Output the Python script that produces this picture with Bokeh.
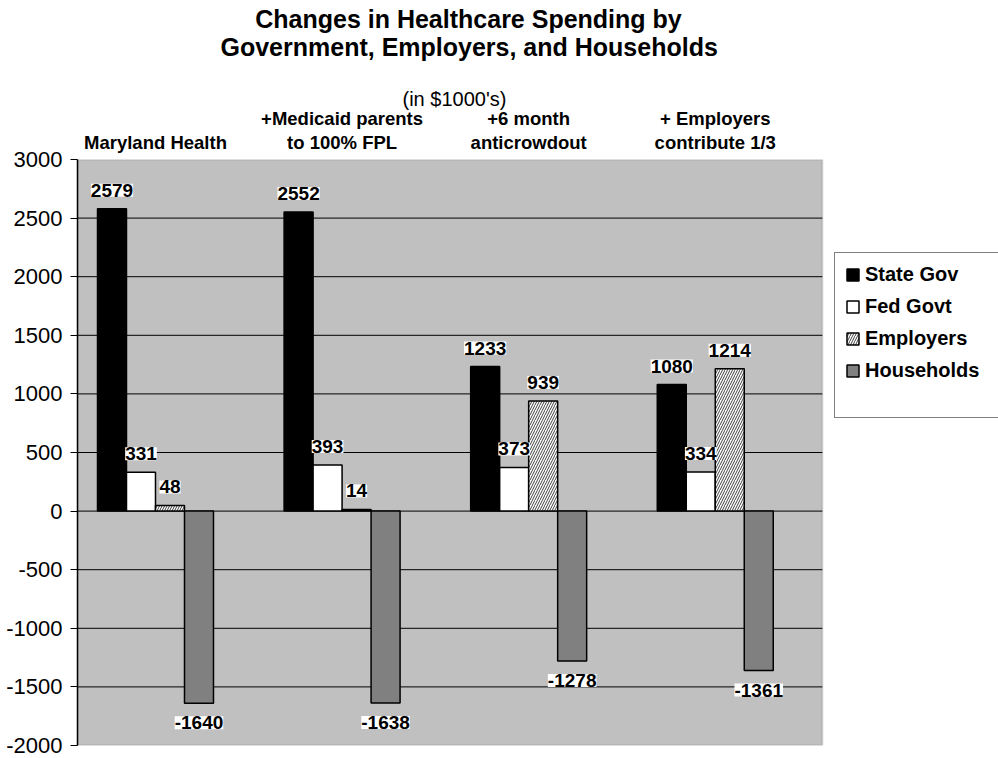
from bokeh.plotting import figure
from bokeh.models import (ColumnDataSource, LinearAxis, FixedTicker, Title, Legend,
                          LegendItem, LabelSet, Range1d, BoxAnnotation)
from bokeh.core.properties import value
from bokeh.transform import dodge
from bokeh.embed import file_html
from bokeh.resources import INLINE

# ---- data ----
title_lines = ["Changes in Healthcare Spending  by", "Government, Employers, and Households"]
subtitle = "(in $1000's)"
categories = ["Maryland Health", "+Medicaid parents\nto 100% FPL",
              "+6 month\nanticrowdout", "+ Employers\ncontribute 1/3"]
series_names = ["State Gov", "Fed Govt", "Employers", "Households"]
state_gov = [2579, 2552, 1233, 1080]
fed_govt = [331, 393, 373, 334]
employers = [48, 14, 939, 1214]
households = [-1640, -1638, -1278, -1361]
y_ticks = [-2000, -1500, -1000, -500, 0, 500, 1000, 1500, 2000, 2500, 3000]

FONT = "Liberation Sans"
# x extent: plot area spans X_START..PLOT_END, legend area beyond it
X_START, PLOT_END, X_END = -0.418, 3.574, 4.518
Y_MIN, Y_MAX = -2000, 3000

values = {"State Gov": state_gov, "Fed Govt": fed_govt,
          "Employers": employers, "Households": households}
keys = {"State Gov": "state", "Fed Govt": "fed", "Employers": "emp", "Households": "hh"}

data = {"idx": list(range(len(categories)))}
for name, vals in values.items():
    k = keys[name]
    data[k] = vals
    data[k + "_txt"] = [str(v) for v in vals]
    data[k + "_off"] = [12 if v >= 0 else -13 for v in vals]
    data[k + "_base"] = ["bottom" if v >= 0 else "top" for v in vals]
src = ColumnDataSource(data)

p = figure(width=998, height=758, output_backend="svg", toolbar_location=None,
           x_range=Range1d(X_START, X_END), y_range=Range1d(Y_MIN, Y_MAX),
           x_axis_type=None, title=None)
p.min_border_left = 77
p.min_border_right = 0
p.min_border_top = 159
p.min_border_bottom = 13
p.background_fill_color = "white"
p.border_fill_color = "white"
p.outline_line_color = None

# gray plot area
area = BoxAnnotation(left=X_START, right=PLOT_END, bottom=Y_MIN, top=Y_MAX,
                     fill_color="#C0C0C0", fill_alpha=1.0,
                     line_color="#808080", line_width=2, level="underlay")
p.add_layout(area)

# y axis
p.yaxis.ticker = FixedTicker(ticks=y_ticks)
p.yaxis.major_label_overrides = {t: str(t) for t in y_ticks}
p.yaxis.major_label_text_font = FONT
p.yaxis.major_label_text_font_size = "22px"
p.yaxis.major_label_text_color = "black"
p.yaxis.major_tick_out = 7
p.yaxis.major_tick_in = 0
p.yaxis.minor_tick_line_color = None
p.yaxis.axis_line_color = "black"
p.yaxis.axis_line_width = 1.5
p.yaxis.major_tick_line_color = "black"
p.yaxis.major_label_standoff = 8
p.ygrid.visible = False

# horizontal gridlines limited to the plot area
inner_ticks = [t for t in y_ticks if Y_MIN < t < Y_MAX]
p.segment(x0=X_START, x1=PLOT_END, y0=inner_ticks, y1=inner_ticks,
          line_color="black", line_width=1)

# category axis above
top_axis = LinearAxis(ticker=FixedTicker(ticks=list(range(len(categories)))),
                      major_label_overrides={i: c for i, c in enumerate(categories)})
top_axis.axis_line_color = None
top_axis.major_tick_line_color = None
top_axis.minor_tick_line_color = None
top_axis.major_label_text_font = FONT
top_axis.major_label_text_font_size = "18.5px"
top_axis.major_label_text_font_style = "bold"
top_axis.major_label_text_color = "black"
top_axis.major_label_text_line_height = 1.1
top_axis.major_label_standoff = 1
p.add_layout(top_axis, "above")

sub = Title(text=subtitle, text_font=FONT, text_font_size="20px",
            text_font_style="normal", text_color="black",
            align="left", offset=325, standoff=-8)
p.add_layout(sub, "above")
# invisible spacer between subtitle and title
spacer = Title(text=" ", text_font=FONT, text_font_size="2px", standoff=25)
p.add_layout(spacer, "above")
# two-line title; non-breaking spaces centre the shorter first line over the second
t = Title(text="\u00a0" * 5 + title_lines[0] + "\n" + title_lines[1], text_font=FONT,
          text_font_size="25px", text_font_style="bold", text_color="black",
          align="left", offset=143, standoff=0, text_line_height=1.0)
p.add_layout(t, "above")

# bars
w = 0.1554
offs = [-1.5 * w, -0.5 * w, 0.5 * w, 1.5 * w]
styles = {
    "State Gov": dict(fill_color="black"),
    "Fed Govt": dict(fill_color="white"),
    "Employers": dict(fill_color="white", hatch_pattern="/", hatch_color="#404040",
                      hatch_scale=5, hatch_weight=1),
    "Households": dict(fill_color="#808080"),
}
renderers = {}
for name, off in zip(series_names, offs):
    k = keys[name]
    r = p.vbar(x=dodge("idx", off, range=p.x_range), top=k, bottom=0, width=w,
               source=src, line_color="black", line_width=1.5, **styles[name])
    renderers[name] = r
    lab = LabelSet(x=dodge("idx", off, range=p.x_range), y=k, text=k + "_txt",
                   source=src, y_offset=k + "_off", text_baseline=k + "_base",
                   text_align="center", text_font=value(FONT), text_font_size="19px",
                   text_font_style="bold", text_color="black",
                   background_fill_color="white")
    p.add_layout(lab)

items = [LegendItem(label=n, renderers=[renderers[n]]) for n in series_names]
legend = Legend(items=items, location=(757, 327), orientation="vertical",
                border_line_color="black", border_line_width=1.5,
                background_fill_color="white", background_fill_alpha=1.0,
                padding=10, spacing=9,
                label_height=15, glyph_height=15, glyph_width=15,
                label_standoff=5, margin=0, label_width=123,
                title=" ", title_location="below", title_standoff=7,
                title_text_font_size="16px",
                label_text_font=FONT, label_text_font_style="bold",
                label_text_font_size="20px", label_text_color="black")
p.add_layout(legend, "center")

open("out.html", "w").write(file_html(p, INLINE))
